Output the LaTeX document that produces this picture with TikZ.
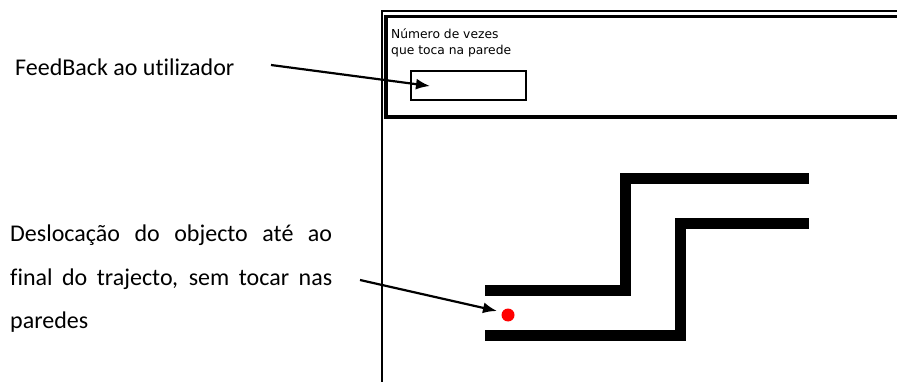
\documentclass[tikz,border=0pt]{standalone}
\usepackage{fontspec}
\setmainfont{Carlito}[Ligatures={NoCommon}]
\newfontfamily\screenfont{DejaVu Sans}
\usetikzlibrary{arrows.meta}
\hyphenpenalty=10000
\tikzset{
  callout/.style={line width=2.2pt, -{Latex[length=14pt,width=11pt]}},
  wall/.style={line width=11pt, miter limit=10}
}
\begin{document}
\begin{tikzpicture}[x=1pt,y=-1pt]
\useasboundingbox (0,0) rectangle (897,382);
% screen frame
\draw[line width=1.3pt] (382,382) -- (382,11) -- (900,11);
\draw[line width=3.2pt] (900,16.5) -- (386,16.5) -- (386,117) -- (900,117);
\node[anchor=base west, align=left, inner sep=0pt, font=\screenfont\fontsize{12.3}{16}\selectfont] (counttext) at (391,55) {Número de vezes\\que toca na parede};
\node[draw, line width=1.3pt, minimum width=115pt, minimum height=29pt, inner sep=0pt] (countbox) at (468.5,85.5) {};
% maze
\draw[wall] (485,290.5) -- (625.5,290.5) -- (625.5,178.5) -- (809,178.5);
\draw[wall] (485,335.5) -- (680.5,335.5) -- (680.5,223.5) -- (809,223.5);
\node[circle, fill=red, minimum size=13pt, inner sep=0pt] (ball) at (508,315) {};
% labels
\node[anchor=base west, inner sep=0pt, font=\fontsize{24}{43.5}\selectfont] (feedback) at (15,76) {FeedBack ao utilizador};
\node[anchor=base west, inner sep=0pt, text width=322pt, align=justify, font=\fontsize{24}{44}\selectfont] (move) at (10,241) {Deslocação do objecto até ao final do trajecto, sem tocar nas paredes};
\coordinate (feedstart) at (271,65);
\coordinate (feedend) at (430,86);
\coordinate (movestart) at (360,280);
\coordinate (moveend) at (497,311);
\draw[callout] (feedstart) -- (feedend);
\draw[callout] (movestart) -- (moveend);
\end{tikzpicture}
\end{document}
